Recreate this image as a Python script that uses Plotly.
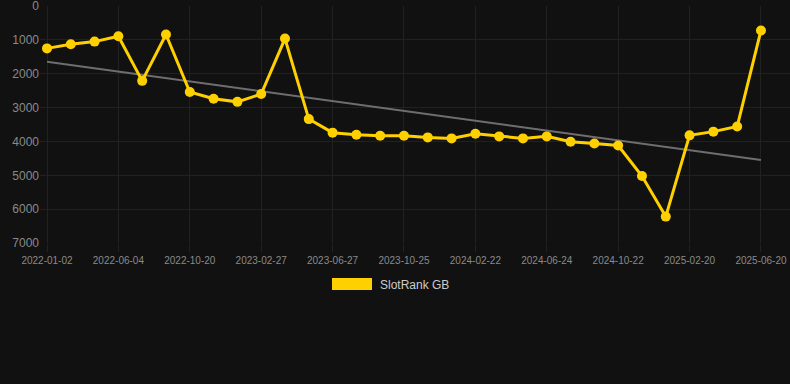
import numpy as np
import plotly.graph_objects as go

dates = ["2022-01-02", "2022-02-22", "2022-04-14", "2022-06-04", "2022-07-20", "2022-09-04",
         "2022-10-20", "2022-12-02", "2023-01-14", "2023-02-27", "2023-04-08", "2023-05-18",
         "2023-06-27", "2023-08-06", "2023-09-15", "2023-10-25", "2023-12-04", "2024-01-13",
         "2024-02-22", "2024-04-02", "2024-05-14", "2024-06-24", "2024-08-03", "2024-09-12",
         "2024-10-22", "2024-12-01", "2025-01-10", "2025-02-20", "2025-04-01", "2025-05-11",
         "2025-06-20"]
rank = [1250, 1130, 1050, 890, 2210, 840, 2540, 2740, 2830, 2600, 960, 3340,
        3740, 3800, 3830, 3830, 3880, 3910, 3770, 3850, 3910, 3850, 4010, 4060,
        4120, 5020, 6220, 3820, 3710, 3560, 720]
tick_labels = dates[::3]
y_ticks = [0, 1000, 2000, 3000, 4000, 5000, 6000, 7000]
series_name = "SlotRank GB"

idx = np.arange(len(rank))
slope, intercept = np.polyfit(idx, rank, 1)
trend = slope * idx + intercept

fig = go.Figure()
fig.add_trace(go.Scatter(x=dates, y=trend, mode="lines",
                         line=dict(color="#6e6e6e", width=2),
                         showlegend=False, hoverinfo="skip"))
fig.add_trace(go.Scatter(x=dates, y=rank, mode="lines+markers", name=series_name,
                         line=dict(color="#ffd000", width=3),
                         marker=dict(color="#ffd000", size=10),
                         showlegend=False))

grid = "#212121"
fig.update_xaxes(type="category", categoryorder="array", categoryarray=dates,
                 range=[-0.294, 31.22],
                 tickmode="array", tickvals=tick_labels, ticktext=tick_labels,
                 showgrid=True, gridcolor=grid, gridwidth=1,
                 ticks="outside", ticklen=8, tickcolor=grid,
                 zeroline=False, showline=False,
                 tickfont=dict(family="Liberation Sans, Arial", size=10, color="#8a8a8a"))
fig.update_yaxes(range=[7000, -2], tickvals=y_ticks,
                 showgrid=True, gridcolor=grid, gridwidth=1,
                 zeroline=False, showline=False, ticks="",
                 ticklabeloverflow="allow",
                 tickfont=dict(family="Liberation Sans, Arial", size=12, color="#8a8a8a"))

# legend drawn as swatch + text
fig.add_shape(type="rect", xref="paper", yref="paper",
              x0=(332 - 40) / 750, x1=(372 - 40) / 750,
              y0=(243 - 290) / 237, y1=(243 - 278) / 237,
              fillcolor="#ffd000", line=dict(width=0))
fig.add_annotation(text=series_name, xref="paper", yref="paper",
                   x=(378 - 40) / 750, y=(243 - 284.5) / 237,
                   xanchor="left", yanchor="middle", showarrow=False,
                   font=dict(family="Liberation Sans, Arial", size=12, color="#cccccc"))

fig.update_layout(width=790, height=384,
                  margin=dict(l=40, r=0, t=6, b=141, pad=0),
                  paper_bgcolor="#111111", plot_bgcolor="#111111",
                  showlegend=False)

fig.write_html("out.html", config={"displayModeBar": False},
               post_script="document.body.style.margin='0';document.body.style.background='#111111';document.body.style.overflow='hidden';")
